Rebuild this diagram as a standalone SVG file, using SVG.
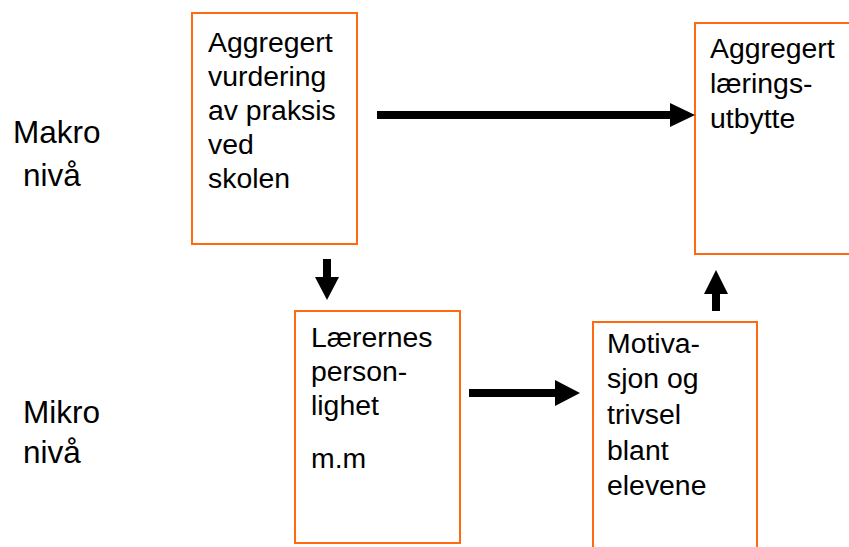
<svg xmlns="http://www.w3.org/2000/svg" width="849" height="547" viewBox="0 0 849 547">
<style>
.box{fill:#fff;stroke:#FF6A10;stroke-width:2}
.t{font-family:"Liberation Sans",Arial,sans-serif;font-size:28.4px;fill:#000}
.lbl{font-family:"Liberation Sans",Arial,sans-serif;font-size:31.5px;fill:#000}
.shaft{stroke:#000;stroke-width:8;fill:none}
.head{fill:#000}
</style>
<rect width="849" height="547" fill="#fff"/>
<g id="label-makro">
<text class="lbl" x="13" y="143">Makro</text>
<text class="lbl" x="23" y="186">nivå</text>
</g>
<g id="label-mikro">
<text class="lbl" x="23" y="423">Mikro</text>
<text class="lbl" x="23" y="463">nivå</text>
</g>
<g id="node-praksis">
<rect class="box" x="192" y="13" width="165" height="231"/>
<text class="t" x="208" y="52">Aggregert</text>
<text class="t" x="208" y="86">vurdering</text>
<text class="t" x="208" y="120">av praksis</text>
<text class="t" x="208" y="154">ved</text>
<text class="t" x="208" y="188">skolen</text>
</g>
<g id="node-utbytte">
<rect class="box" x="695" y="23" width="160" height="231"/>
<text class="t" x="710" y="58">Aggregert</text>
<text class="t" x="710" y="93">lærings-</text>
<text class="t" x="710" y="128">utbytte</text>
</g>
<g id="node-laerer">
<rect class="box" x="295" y="311" width="165" height="232"/>
<text class="t" x="311" y="347">Lærernes</text>
<text class="t" x="311" y="381">person-</text>
<text class="t" x="311" y="415">lighet</text>
<text class="t" x="311" y="468">m.m</text>
</g>
<g id="node-motivasjon">
<rect class="box" x="593" y="322" width="164" height="240"/>
<text class="t" x="607" y="353">Motiva-</text>
<text class="t" x="607" y="388">sjon og</text>
<text class="t" x="607" y="424">trivsel</text>
<text class="t" x="607" y="460">blant</text>
<text class="t" x="607" y="495">elevene</text>
</g>
<g id="connectors">
<line class="shaft" x1="377" y1="115" x2="672" y2="115"/>
<polygon class="head" points="670,103 695,115 670,127"/>
<line class="shaft" x1="469" y1="393" x2="557" y2="393"/>
<polygon class="head" points="555,380 580,393 555,406"/>
<line class="shaft" x1="327" y1="259" x2="327" y2="279"/>
<polygon class="head" points="315,277 339,277 327,300"/>
<line class="shaft" x1="716" y1="311" x2="716" y2="292"/>
<polygon class="head" points="704,294 728,294 716,270"/>
</g>
</svg>
